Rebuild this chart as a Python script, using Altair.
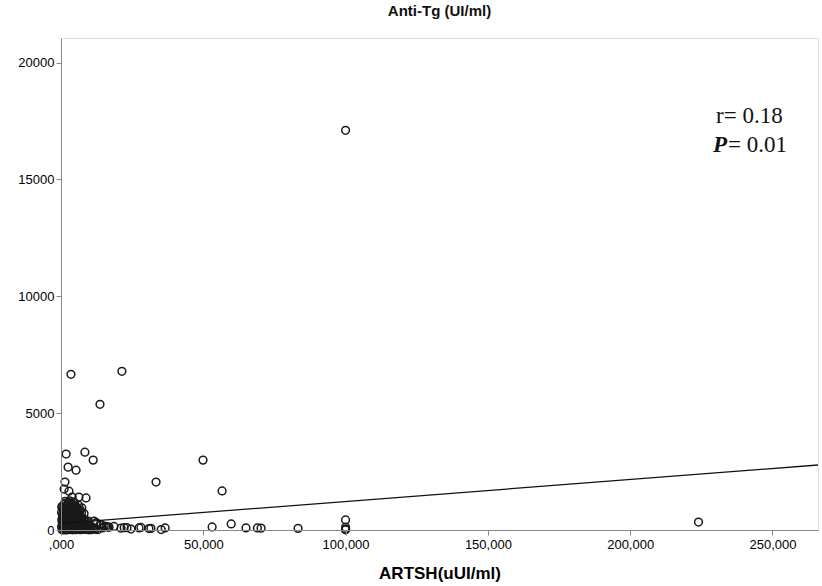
import altair as alt
import pandas as pd

# ---- data (x = TSH, y = Anti-Tg) ----
outlier_x = [100, 3.5, 21.4, 13.7, 1.8, 8.4, 11.3, 2.5, 5.3, 1.4, 1.1, 2.8, 3.9, 6.3, 8.8,
             33.4, 49.9, 56.6, 53.1, 59.8, 65.0, 69.0, 70.3, 83.3, 100, 100, 100, 100, 224]
outlier_y = [17100, 6660, 6790, 5380, 3250, 3330, 2990, 2690, 2560, 2050, 1750, 1660, 1410, 1410, 1370,
             2050, 2990, 1670, 130, 260, 90, 90, 80, 70, 430, 120, 40, 10, 340]

bottom_x = [12.3, 14.1, 15.8, 18.6, 22.2, 23.2, 27.4, 30.9, 35.2, 36.6, 16.9, 21.1, 24.6, 28.1, 31.6]
bottom_y = [300, 230, 150, 150, 100, 100, 90, 60, 20, 90, 120, 80, 40, 110, 70]

a_x = [0.4, 0.9, 1.3, 1.8, 2.2, 2.7, 3.1, 3.6, 4.0, 4.5, 5.0, 5.5, 6.1, 6.6, 7.2, 7.8, 8.4, 9.1,
       9.8, 10.6, 11.4, 12.2, 13.0, 0.6, 1.5, 2.4, 3.3, 4.2, 5.2, 6.3, 7.4, 8.6, 9.5, 10.2, 11.8]
a_y = [10, 25, 5, 40, 15, 60, 20, 35, 8, 50, 12, 70, 30, 18, 45, 22, 55, 28,
       40, 15, 60, 30, 20, 80, 90, 70, 95, 85, 75, 65, 90, 50, 85, 70, 45]
b_x = [0.5, 1.1, 1.7, 2.3, 2.9, 3.5, 4.1, 4.8, 5.4, 6.0, 6.7, 7.3, 8.0, 8.8, 9.6, 10.4, 11.2,
       0.8, 2.0, 3.2, 4.4, 5.7, 7.0, 8.3, 9.9]
b_y = [120, 180, 140, 250, 160, 220, 130, 270, 190, 150, 240, 170, 210, 130, 180, 150, 110,
       280, 200, 300, 240, 280, 220, 260, 200]
c_x = [0.4, 1.0, 1.6, 2.2, 2.8, 3.4, 4.0, 4.7, 5.3, 6.0, 6.7, 7.4, 8.2, 9.0, 0.7, 1.9, 3.0,
       4.3, 5.6, 6.9, 8.0, 9.6]
c_y = [350, 420, 380, 480, 330, 550, 410, 360, 500, 440, 380, 520, 400, 340, 580, 600, 470,
       590, 560, 330, 470, 380]
d_x = [0.5, 1.2, 1.9, 2.6, 3.3, 4.0, 4.8, 5.6, 6.4, 7.2, 8.1, 0.9, 2.2, 3.6, 5.0, 6.8]
d_y = [650, 720, 680, 800, 700, 860, 760, 690, 820, 740, 700, 880, 900, 640, 890, 860]
e_x = [0.4, 1.1, 1.8, 2.6, 3.4, 4.3, 5.2, 6.2, 7.3, 1.5, 3.0, 4.8]
e_y = [950, 1100, 1020, 1180, 980, 1080, 1000, 1060, 950, 1230, 1250, 1150]
f_x = [12.5, 13.8, 15.2, 11.6, 14.6, 16.5]
f_y = [300, 230, 160, 380, 90, 120]
g_x = [0.2, 0.7, 1.2, 1.7, 2.2, 2.7, 3.2, 3.7, 4.2, 4.7, 5.2, 5.7, 6.2, 6.7, 7.2, 7.7, 8.2, 8.7,
       0.3, 0.8, 1.3, 1.8, 2.3, 2.8, 3.3, 3.8, 4.3, 4.8, 5.3, 5.8, 6.3, 6.8, 7.3, 7.8,
       0.2, 0.6, 1.0, 1.4, 1.9, 2.4, 2.9, 3.4, 3.9, 4.4, 4.9, 5.4, 5.9, 6.4,
       0.3, 0.9, 1.5, 2.1, 2.7, 3.3, 3.9, 4.5, 5.1, 5.7,
       0.5, 1.3, 2.0, 2.8, 3.6, 4.4, 5.3, 6.1, 7.0, 7.9, 8.8, 9.7, 10.6]
g_y = [150, 60, 230, 110, 320, 190, 80, 260, 170, 330, 100, 190, 120, 280, 150, 90, 160, 60,
       450, 300, 520, 390, 610, 260, 430, 570, 310, 480, 380, 290, 620, 230, 430, 300,
       760, 560, 820, 640, 900, 540, 760, 600, 720, 640, 580, 760, 500, 680,
       1000, 930, 1140, 860, 1000, 1120, 930, 1200, 960, 920,
       30, 45, 10, 25, 60, 35, 20, 50, 15, 40, 25, 10, 35]

fit_x = [0, 266]
fit_y = [280, 2780]

x_ticks = [0, 50, 100, 150, 200, 250]
y_ticks = [0, 5000, 10000, 15000, 20000]
stat_r = ["r= 0.18"]
stat_p = ["P"]
stat_p_val = ["= 0.01"]

tsh = outlier_x + bottom_x + a_x + b_x + c_x + d_x + e_x + f_x + g_x
antitg = outlier_y + bottom_y + a_y + b_y + c_y + d_y + e_y + f_y + g_y
points = pd.DataFrame({"tsh": tsh, "antitg": antitg})
fit = pd.DataFrame({"tsh": fit_x, "antitg": fit_y})

xscale = alt.Scale(domain=[0, 266], nice=False, zero=False)
yscale = alt.Scale(domain=[0, 21050], nice=False)

xaxis = alt.Axis(values=x_ticks, grid=False, labelFlush=False,
                 labelExpr="datum.value == 0 ? ',000' : datum.value + ',000'",
                 title="ARTSH(uUI/ml)", titleFontSize=17, titleFontWeight="bold",
                 titlePadding=14, labelFontSize=13, labelPadding=3, zindex=1)
yaxis = alt.Axis(values=y_ticks, grid=False, format="d", title=None, labelFlush=False,
                 labelFontSize=13, labelPadding=2, zindex=1)

pts = alt.Chart(points).mark_point(
    shape="circle", filled=False, size=60, stroke="#1a1a1a", strokeWidth=1.5, opacity=1
).encode(
    x=alt.X("tsh:Q", scale=xscale, axis=xaxis),
    y=alt.Y("antitg:Q", scale=yscale, axis=yaxis),
)

line = alt.Chart(fit).mark_line(color="#111", strokeWidth=1.3, clip=True).encode(
    x=alt.X("tsh:Q", scale=xscale),
    y=alt.Y("antitg:Q", scale=yscale),
)

txt_font = "Liberation Serif"
t_r = alt.Chart(pd.DataFrame({"t": stat_r})).mark_text(
    font=txt_font, fontSize=23, align="left", baseline="alphabetic", color="#111"
).encode(text="t:N", x=alt.value(655), y=alt.value(85))
t_p = alt.Chart(pd.DataFrame({"t": stat_p})).mark_text(
    font=txt_font, fontSize=23, fontWeight="bold", fontStyle="italic",
    align="left", baseline="alphabetic", color="#111"
).encode(text="t:N", x=alt.value(652), y=alt.value(114))
t_pv = alt.Chart(pd.DataFrame({"t": stat_p_val})).mark_text(
    font=txt_font, fontSize=23, align="left", baseline="alphabetic", color="#111"
).encode(text="t:N", x=alt.value(667), y=alt.value(114))

chart = alt.layer(pts, line, t_r, t_p, t_pv).properties(
    width=757, height=492,
    title=alt.TitleParams("Anti-Tg (UI/ml)", fontSize=15, fontWeight="bold",
                          font="Liberation Sans", anchor="middle", offset=19, color="#111"),
    autosize=alt.AutoSizeParams(type="none"),
    padding={"left": 61, "top": 38, "right": 4, "bottom": 56},
).configure_view(
    fill="#f0f0f0", stroke="#666", strokeWidth=1.5
).configure_axis(
    domainColor="#111", tickColor="#111", labelColor="#222", titleColor="#111",
    labelFont="Liberation Sans", titleFont="Liberation Sans", tickSize=6, domainWidth=1.2
).configure(background="white")

chart.save("out.html", embed_options={"renderer": "svg", "actions": False})
